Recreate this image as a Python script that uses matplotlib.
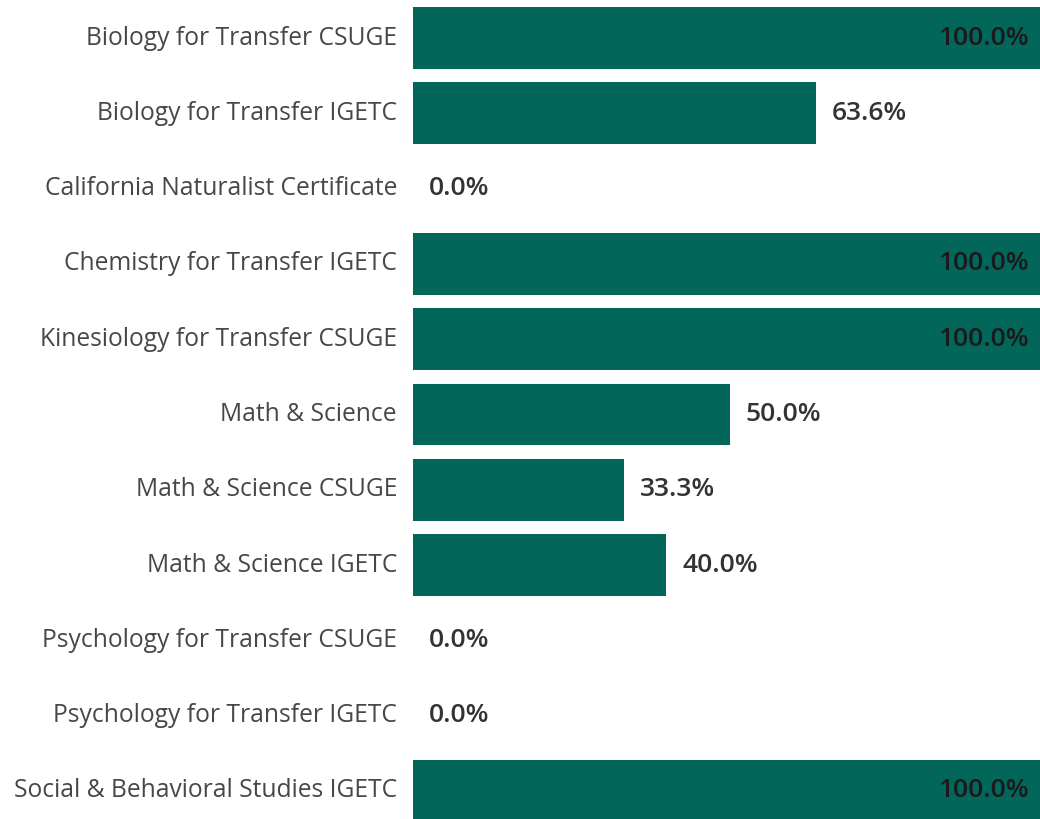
import matplotlib
matplotlib.use("Agg")
import matplotlib.pyplot as plt

categories = [
    "Biology for Transfer CSUGE",
    "Biology for Transfer IGETC",
    "California Naturalist Certificate",
    "Chemistry for Transfer IGETC",
    "Kinesiology for Transfer CSUGE",
    "Math & Science",
    "Math & Science CSUGE",
    "Math & Science IGETC",
    "Psychology for Transfer CSUGE",
    "Psychology for Transfer IGETC",
    "Social & Behavioral Studies IGETC",
]
values = [100.0, 63.6, 0.0, 100.0, 100.0, 50.0, 33.3, 40.0, 0.0, 0.0, 100.0]

BAR = "#03665A"
W, H = 1040, 819
fig = plt.figure(figsize=(W / 100, H / 100), dpi=100)
ax = fig.add_axes([413 / W, 0, 1 - 413 / W, 1])

pos = list(range(len(categories)))
ax.barh(pos, values, height=0.823, color=BAR)
ax.set_xlim(0, 99.05)
ax.set_ylim(10.372, -0.505)
ax.axis("off")

font = "Open Sans"
for i, (c, v) in enumerate(zip(categories, values)):
    ax.annotate(c, xy=(0, i), xytext=(-16, 0), textcoords="offset pixels",
                ha="right", va="center", fontsize=17.7, color="#474747",
                family=font)
    lab = f"{v:.1f}%"
    if v >= 90:
        ax.annotate(lab, xy=(99.05, i), xytext=(-11, 0), textcoords="offset pixels",
                    ha="right", va="center", fontsize=19, color="#1a1a1a",
                    family=font, fontweight="semibold")
    else:
        ax.annotate(lab, xy=(v, i), xytext=(16, 0), textcoords="offset pixels",
                    ha="left", va="center", fontsize=19, color="#333333",
                    family=font, fontweight="semibold")

fig.savefig("out.png", dpi=100)
